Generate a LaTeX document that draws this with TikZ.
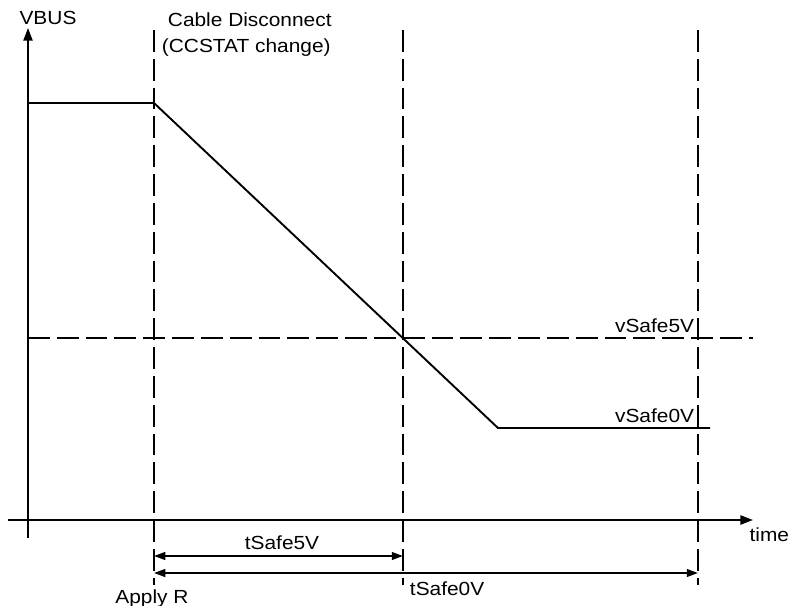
\documentclass[tikz,border=0pt]{standalone}
\usepackage{fontspec}
\setmainfont{Liberation Sans}[FakeStretch=1.1]
\usetikzlibrary{positioning, arrows.meta}

\begin{document}
\begin{tikzpicture}[x=0.025cm, y=-0.025cm, line width=1.35pt,
    lbl/.style={inner sep=0pt, font=\fontsize{13.5}{20}\selectfont},
    guide/.style={dash pattern=on 15.5pt off 5pt},
    axis/.style={-{Triangle[length=9pt, width=6.5pt]}},
    span/.style={{Triangle[length=8pt, width=5.5pt]}-{Triangle[length=8pt, width=5.5pt]}}]
    \useasboundingbox (0,0) rectangle (791,606);

    % axes
    \coordinate (vbot) at (28,538);
    \coordinate (vtop) at (28,28);
    \coordinate (tleft) at (8,520);
    \coordinate (tright) at (753,520);
    \draw[axis] (vbot) -- (vtop);
    \draw[axis] (tleft) -- (tright);
    \node[lbl, anchor=base] (vbus) at (48,24) {VBUS};
    \node[lbl, anchor=base east] (time) at (790,541) {time};

    % event markers
    \foreach \x/\n in {154/apply, 403/cross, 698/done} {
        \coordinate (\n-t) at (\x,30);
        \coordinate (\n-b) at (\x,585);
        \draw[guide] (\n-t) -- (\n-b);
    }
    \node[lbl, anchor=base west] (cable) at (167,26) {Cable Disconnect};
    \node[lbl, anchor=base west] (ccstat) at (161,52) {(CCSTAT change)};
    \node[lbl, anchor=base] (applyr) at (152,603) {Apply R};

    % thresholds
    \coordinate (v5a) at (28,338);
    \coordinate (v5b) at (753,338);
    \draw[guide] (v5a) -- (v5b);
    \node[lbl, anchor=base east] (vsafe5) at (695,332) {vSafe5V};
    \node[lbl, anchor=base east] (vsafe0) at (695,422) {vSafe0V};

    % vbus level
    \coordinate (hi0) at (28,103);
    \coordinate (hi1) at (154,103);
    \coordinate (lo0) at (498,428);
    \coordinate (lo1) at (710,428);
    \draw (hi0) -- (hi1) -- (lo0) -- (lo1);

    % timings
    \coordinate (s5a) at (154,556);
    \coordinate (s5b) at (403,556);
    \coordinate (s0a) at (154,573);
    \coordinate (s0b) at (698,573);
    \draw[span] (s5a) -- (s5b);
    \draw[span] (s0a) -- (s0b);
    \node[lbl, anchor=base] (tsafe5) at (282,549) {tSafe5V};
    \node[lbl, anchor=base west] (tsafe0) at (409,595) {tSafe0V};
\end{tikzpicture}
\end{document}
